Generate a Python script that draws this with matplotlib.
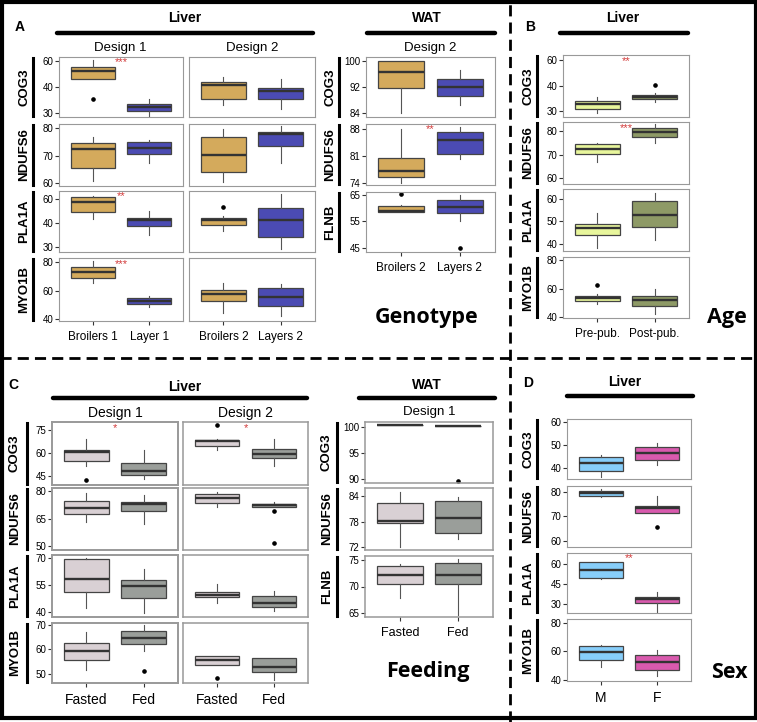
import matplotlib
matplotlib.use("Agg")
import matplotlib.pyplot as plt
import numpy as np
from matplotlib.lines import Line2D
from matplotlib.patches import Rectangle
from matplotlib.ticker import NullLocator
import matplotlib.transforms as mtransforms

plt.rcParams['font.family'] = ['Liberation Sans', 'DejaVu Sans']

# ---------------- data: five numbers per box (low whisker, q1, median, q3, high whisker)
# A - genotype
a_genes = ["COG3", "NDUFS6", "PLA1A", "MYO1B"]
a_wat_genes = ["COG3", "NDUFS6", "FLNB"]
a_d1_labels = ["Broilers 1", "Layer 1"]
a_d2_labels = ["Broilers 2", "Layers 2"]
a_d1_broilers = [[46.2, 46.2, 52.5, 55.6, 60.5], [60.6, 65.5, 72.5, 74.7, 76.8],
                 [42.7, 48.7, 57.2, 61.9, 62.5], [65.6, 69.1, 72.9, 76.8, 80.8]]
a_d1_broilers_out = [[35.4], [], [], []]
a_d1_layers = [[28.8, 30.8, 32.4, 33.6, 35.4], [67.3, 70.6, 72.8, 75.0, 75.6],
               [34.8, 38.7, 42.1, 44.1, 50.1], [48.6, 50.7, 52.8, 55.1, 56.5]]
a_d1_layers_out = [[], [], [], []]
a_d2_broilers = [[33.0, 35.3, 41.3, 43.6, 47.9], [60.2, 63.8, 70.1, 76.9, 79.6],
                 [36.6, 39.1, 41.9, 43.8, 46.0], [44.1, 52.8, 57.7, 60.5, 65.2]]
a_d2_broilers_out = [[], [], [52.8], []]
a_d2_layers = [[31.7, 35.5, 38.5, 39.5, 46.2], [67.3, 73.6, 78.1, 78.6, 80.7],
               [28.9, 34.1, 42.1, 52.3, 63.9], [42.5, 49.1, 55.8, 61.9, 64.5]]
a_d2_layers_out = [[], [], [], []]
a_wat_broilers = [[84.2, 91.7, 96.5, 100.1, 100.1], [74.0, 75.5, 77.0, 80.6, 88.0],
                  [58.7, 58.7, 59.1, 60.9, 61.3]]
a_wat_broilers_out = [[], [], [65.4]]
a_wat_layers = [[86.6, 89.2, 92.2, 94.6, 97.1], [80.3, 81.6, 85.3, 87.2, 88.7],
                [55.3, 58.0, 60.3, 63.2, 64.8]]
a_wat_layers_out = [[], [], [45.1]]
a_ticks = [[30, 40, 60], [60, 70, 80], [30, 40, 60], [40, 60, 80]]
a_wat_ticks = [[84, 92, 100], [74, 81, 88], [45, 55, 65]]
a_ylim = [(28.5, 63.1), (58.8, 81.6), (27.7, 66.6), (38.8, 83.0)]
a_wat_ylim = [(82.9, 101.2), (73.4, 89.4), (43.4, 66.1)]
a_d1_stars = ["***", "", "**", "***"]
a_wat_stars = ["", "**", ""]

# B - age
b_genes = ["COG3", "NDUFS6", "PLA1A", "MYO1B"]
b_labels = ["Pre-pub.", "Post-pub."]
b_pre = [[29.2, 31.0, 33.0, 34.0, 35.7], [66.9, 70.1, 72.4, 74.3, 74.9],
         [38.0, 43.8, 46.8, 48.9, 53.6], [49.5, 51.2, 53.5, 55.1, 56.3]]
b_pre_out = [[], [], [], [62.6]]
b_post = [[33.6, 34.8, 35.6, 36.4, 37.1], [74.9, 77.2, 79.6, 80.9, 82.6],
          [41.5, 47.4, 53.0, 59.2, 62.6], [41.9, 48.1, 51.9, 54.9, 60.0]]
b_post_out = [[40.5], [], [], []]
b_ticks = [[30, 40, 60], [60, 70, 80], [40, 50, 60], [40, 60, 80]]
b_ylim = [(27.8, 63.8), (57.7, 83.6), (36.7, 64.5), (39.3, 82.3)]
b_stars = ["**", "***", "", ""]

# C - feeding
c_genes = ["COG3", "NDUFS6", "PLA1A", "MYO1B"]
c_wat_genes = ["COG3", "NDUFS6", "FLNB"]
c_labels = ["Fasted", "Fed"]
c_d1_fasted = [[51.2, 54.6, 60.4, 61.9, 68.6], [63.4, 67.7, 71.0, 74.6, 79.2],
               [42.0, 50.9, 58.3, 69.3, 69.6], [51.7, 55.7, 59.3, 62.4, 67.1]]
c_d1_fasted_out = [[42.2], [], [], []]
c_d1_fed = [[43.3, 45.4, 48.4, 53.1, 61.9], [61.9, 69.2, 73.2, 74.3, 77.9],
            [39.3, 47.6, 54.1, 57.4, 63.9], [59.5, 62.0, 64.7, 67.5, 69.7]]
c_d1_fed_out = [[], [], [], [51.3]]
c_d2_fasted = [[61.5, 64.5, 67.7, 68.4, 68.6], [71.4, 73.4, 76.5, 78.6, 79.5],
               [45.2, 48.0, 49.4, 51.3, 55.6], [53.6, 53.6, 55.6, 57.2, 57.2]]
c_d2_fasted_out = [[78.2], [], [], [48.5]]
c_d2_fed = [[51.4, 56.6, 59.4, 62.6, 69.1], [71.5, 71.5, 72.6, 73.2, 74.3],
            [40.6, 43.0, 45.2, 48.9, 51.7], [47.5, 50.8, 52.8, 56.4, 56.4]]
c_d2_fed_out = [[], [69.2, 51.5], [], []]
c_wat_fasted = [[100.3, 100.3, 100.3, 100.3, 100.3], [72.0, 77.8, 78.2, 82.5, 85.0],
                [67.9, 70.5, 72.2, 73.9, 74.2]]
c_wat_fasted_out = [[], [], []]
c_wat_fed = [[100.2, 100.2, 100.2, 100.2, 100.2], [74.0, 75.3, 79.0, 82.8, 83.7],
             [64.7, 70.4, 72.1, 74.4, 75.1]]
c_wat_fed_out = [[89.5], [], []]
c_ticks = [[45, 60, 75], [50, 65, 80], [40, 55, 70], [50, 60, 70]]
c_wat_ticks = [[90, 95, 100], [72, 78, 84], [65, 70, 75]]
c_ylim = [(39.2, 79.9), (47.8, 81.8), (37.2, 71.5), (46.4, 70.7)]
c_wat_ylim = [(89.2, 100.9), (71.4, 85.9), (64.25, 75.75)]
c_d1_stars = ["*", "", "", ""]
c_d2_stars = ["*", "", "", ""]

# D - sex
d_genes = ["COG3", "NDUFS6", "PLA1A", "MYO1B"]
d_labels = ["M", "F"]
d_male = [[35.9, 38.4, 42.1, 44.8, 45.4], [78.0, 78.4, 79.4, 80.2, 81.0],
          [48.4, 49.2, 55.3, 61.0, 61.0], [49.1, 53.7, 59.5, 63.7, 64.9]]
d_male_out = [[], [], [], []]
d_female = [[41.4, 43.3, 46.6, 49.3, 50.7], [71.2, 71.2, 73.3, 74.4, 78.2],
            [24.6, 30.7, 33.7, 35.7, 39.3], [42.8, 47.0, 52.8, 57.7, 61.4]]
d_female_out = [[], [65.9], [], []]
d_ticks = [[40, 50, 60], [60, 70, 80], [30, 45, 60], [40, 60, 80]]
d_ylim = [(35.0, 61.5), (57.6, 82.3), (23.6, 67.9), (39.3, 82.8)]
d_stars = ["", "", "**", ""]

# ---------------- colours
col_broilers, col_layers = "#D4AA5C", "#4B4BB3"
col_pre, col_post = "#E8F69C", "#8E9A66"
col_fasted, col_fed = "#D9D0D4", "#9A9E9A"
col_m, col_f = "#87CEFA", "#D95AAE"

W, H = 757, 722
fig = plt.figure(figsize=(W / 100, H / 100), dpi=100)


def pw(x, xp, fp):
    # piecewise linear with linear extension at both ends
    x = np.asarray(x, dtype=float)
    y = np.interp(x, xp, fp)
    s0 = (fp[1] - fp[0]) / (xp[1] - xp[0])
    s1 = (fp[-1] - fp[-2]) / (xp[-1] - xp[-2])
    y = np.where(x < xp[0], fp[0] + (x - xp[0]) * s0, y)
    y = np.where(x > xp[-1], fp[-1] + (x - xp[-1]) * s1, y)
    return y


def add_ax(x0, x1, y0, y1):
    return fig.add_axes([x0 / W, 1 - y1 / H, (x1 - x0) / W, (y1 - y0) / H])


def stats(five, out):
    return dict(whislo=five[0], q1=five[1], med=five[2], q3=five[3], whishi=five[4], fliers=out)


def draw(ax, g1, g2, colors, ticks, ylim, show_y=True, xlabels=None, xsize=8.5,
         star="", frame_lw=0.8):
    idx = [0, 1, 2]
    tv = list(ticks)
    ax.set_yscale('function', functions=(lambda v: pw(v, tv, idx), lambda u: pw(u, idx, tv)))
    res = ax.bxp([g1, g2], positions=[1, 2], widths=0.78, patch_artist=True, showcaps=False,
                 boxprops=dict(edgecolor="#444444", linewidth=0.9),
                 medianprops=dict(color="#333333", linewidth=1.7),
                 whiskerprops=dict(color="#555555", linewidth=0.8),
                 flierprops=dict(marker="o", markersize=2.3, markerfacecolor="black",
                                 markeredgecolor="black"))
    for patch, c in zip(res['boxes'], colors):
        patch.set_facecolor(c)
    ax.set_xlim(0.4, 2.6)
    ax.set_ylim(*ylim)
    for sp in ax.spines.values():
        sp.set_color("#999999")
        sp.set_linewidth(frame_lw)
    ax.tick_params(length=3, width=0.8, color="#333333", labelsize=7, pad=1)
    if show_y:
        ax.set_yticks(tv, [str(t) for t in tv])
    else:
        ax.set_yticks([])
    ax.yaxis.set_minor_locator(NullLocator())
    if xlabels:
        ax.set_xticks([1, 2], xlabels)
        ax.tick_params(axis='x', labelsize=xsize, pad=4)
    else:
        ax.set_xticks([])
    if star:
        tr = mtransforms.blended_transform_factory(ax.transData, ax.transAxes)
        ax.text(1.5, 0.91, star, transform=tr, ha="center", va="center", color="#D23A3A",
                fontsize=8)


def gene_label(name, xt, xb, y0, y1, size=9.5):
    fig.text(xt / W, 1 - (y0 + y1) / 2 / H, name, rotation=90, ha="center", va="center",
             fontweight="bold", fontsize=size)
    fig.add_artist(Line2D([xb / W, xb / W], [1 - (y0 + 1) / H, 1 - (y1 - 1) / H],
                          transform=fig.transFigure, color="black", lw=2.2))


def header(txt, x, y, lx0, lx1, ly):
    fig.text(x / W, 1 - y / H, txt, ha="center", va="center", fontweight="bold", fontsize=10)
    fig.add_artist(Line2D([lx0 / W, lx1 / W], [1 - ly / H, 1 - ly / H], transform=fig.transFigure,
                          color="black", lw=3.2, solid_capstyle="round"))


def ftext(txt, x, y, size=9.5, **kw):
    fig.text(x / W, 1 - y / H, txt, ha="center", va="center", fontsize=size, **kw)


# ---------------- panel A
a_rows = [(57, 117), (124, 186), (191, 252), (258, 321)]
for i, (y0, y1) in enumerate(a_rows):
    last = i == len(a_rows) - 1
    ax = add_ax(59, 183, y0, y1)
    draw(ax, stats(a_d1_broilers[i], a_d1_broilers_out[i]), stats(a_d1_layers[i], a_d1_layers_out[i]),
         [col_broilers, col_layers], a_ticks[i], a_ylim[i],
         xlabels=a_d1_labels if last else None, star=a_d1_stars[i])
    ax = add_ax(189, 315, y0, y1)
    draw(ax, stats(a_d2_broilers[i], a_d2_broilers_out[i]), stats(a_d2_layers[i], a_d2_layers_out[i]),
         [col_broilers, col_layers], a_ticks[i], a_ylim[i], show_y=False,
         xlabels=a_d2_labels if last else None)
    gene_label(a_genes[i], 24, 33, y0, y1)

a_wat_rows = [(57, 117), (124, 185), (192, 252)]
for i, (y0, y1) in enumerate(a_wat_rows):
    last = i == len(a_wat_rows) - 1
    ax = add_ax(366, 495, y0, y1)
    draw(ax, stats(a_wat_broilers[i], a_wat_broilers_out[i]), stats(a_wat_layers[i], a_wat_layers_out[i]),
         [col_broilers, col_layers], a_wat_ticks[i], a_wat_ylim[i],
         xlabels=a_d2_labels if last else None, star=a_wat_stars[i])
    gene_label(a_wat_genes[i], 330, 339, y0, y1)

header("Liver", 185, 18, 57, 313, 33)
header("WAT", 427, 18, 367, 495, 33)
ftext("Design 1", 120, 48)
ftext("Design 2", 252, 48)
ftext("Design 2", 430, 48)
ftext("A", 20, 27, size=10, fontweight="bold")
ftext("Genotype", 427, 318, size=15.5, fontweight="bold", family="Open Sans")

# ---------------- panel B
b_rows = [(55, 117), (122, 184), (189, 251), (257, 318)]
for i, (y0, y1) in enumerate(b_rows):
    last = i == len(b_rows) - 1
    ax = add_ax(563, 689, y0, y1)
    draw(ax, stats(b_pre[i], b_pre_out[i]), stats(b_post[i], b_post_out[i]),
         [col_pre, col_post], b_ticks[i], b_ylim[i],
         xlabels=b_labels if last else None, star=b_stars[i])
    gene_label(b_genes[i], 528, 537, y0, y1)

header("Liver", 623, 18, 560, 688, 33)
ftext("B", 530, 27, size=10, fontweight="bold")
ftext("Age", 727, 317, size=15.5, fontweight="bold", family="Open Sans")

# ---------------- panel C
c_rows = [(422, 485), (488, 550), (555, 617), (623, 683)]
for i, (y0, y1) in enumerate(c_rows):
    last = i == len(c_rows) - 1
    ax = add_ax(52, 178, y0, y1)
    draw(ax, stats(c_d1_fasted[i], c_d1_fasted_out[i]), stats(c_d1_fed[i], c_d1_fed_out[i]),
         [col_fasted, col_fed], c_ticks[i], c_ylim[i],
         xlabels=c_labels if last else None, xsize=10, star=c_d1_stars[i], frame_lw=1.4)
    ax = add_ax(183, 308, y0, y1)
    draw(ax, stats(c_d2_fasted[i], c_d2_fasted_out[i]), stats(c_d2_fed[i], c_d2_fed_out[i]),
         [col_fasted, col_fed], c_ticks[i], c_ylim[i], show_y=False,
         xlabels=c_labels if last else None, xsize=10, star=c_d2_stars[i], frame_lw=1.1)
    gene_label(c_genes[i], 15, 27, y0, y1)

c_wat_rows = [(422, 483), (488, 550), (556, 617)]
for i, (y0, y1) in enumerate(c_wat_rows):
    last = i == len(c_wat_rows) - 1
    ax = add_ax(365, 493, y0, y1)
    draw(ax, stats(c_wat_fasted[i], c_wat_fasted_out[i]), stats(c_wat_fed[i], c_wat_fed_out[i]),
         [col_fasted, col_fed], c_wat_ticks[i], c_wat_ylim[i],
         xlabels=c_labels if last else None, xsize=9, frame_lw=1.1)
    gene_label(c_wat_genes[i], 327, 337, y0, y1)

header("Liver", 185, 387, 53, 307, 398)
header("WAT", 427, 385, 359, 495, 398)
ftext("Design 1", 115, 413, size=10)
ftext("Design 2", 245, 413, size=10)
ftext("Design 1", 429, 412)
ftext("C", 13, 385, size=10, fontweight="bold")
ftext("Feeding", 428, 672, size=15.5, fontweight="bold", family="Open Sans")

# ---------------- panel D
d_rows = [(419, 479), (486, 547), (553, 613), (619, 681)]
for i, (y0, y1) in enumerate(d_rows):
    last = i == len(d_rows) - 1
    ax = add_ax(567, 691, y0, y1)
    draw(ax, stats(d_male[i], d_male_out[i]), stats(d_female[i], d_female_out[i]),
         [col_m, col_f], d_ticks[i], d_ylim[i],
         xlabels=d_labels if last else None, xsize=10, star=d_stars[i])
    gene_label(d_genes[i], 528, 537, y0, y1)

header("Liver", 625, 382, 567, 693, 396)
ftext("D", 528, 383, size=10, fontweight="bold")
ftext("Sex", 729, 673, size=15.5, fontweight="bold", family="Open Sans")

# ---------------- frame and separators
fig.add_artist(Rectangle((1.5 / W, 4 / H), (W - 3) / W, (H - 5.5) / H, transform=fig.transFigure,
                         fill=False, edgecolor="black", lw=3))
fig.add_artist(Line2D([0, 1], [1 - 358 / H, 1 - 358 / H], transform=fig.transFigure,
                      color="black", lw=2, dashes=(4, 2.2)))
fig.add_artist(Line2D([510 / W, 510 / W], [0, 1], transform=fig.transFigure,
                      color="black", lw=2, dashes=(4, 2.2)))

fig.savefig("out.png", dpi=100)
